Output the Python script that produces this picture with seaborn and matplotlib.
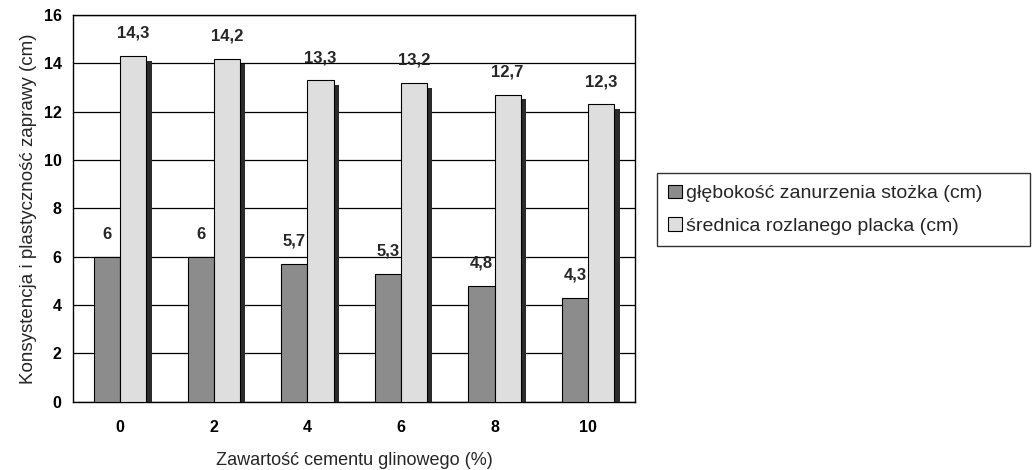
import seaborn as sns
import pandas as pd
import matplotlib.pyplot as plt
from matplotlib.patches import Rectangle

categories = ['0', '2', '4', '6', '8', '10']
glebokosc = [6.0, 6.0, 5.7, 5.3, 4.8, 4.3]
srednica = [14.3, 14.2, 13.3, 13.2, 12.7, 12.3]
series_names = ['głębokość zanurzenia stożka (cm)', 'średnica rozlanego placka (cm)']
colors = ['#8c8c8c', '#dedede']

df = pd.DataFrame({
    'zawartosc': categories * 2,
    'wartosc': glebokosc + srednica,
    'seria': [series_names[0]] * 6 + [series_names[1]] * 6,
})

sns.set_style('white')
plt.rcParams['font.family'] = ['Liberation Sans', 'DejaVu Sans']

fig = plt.figure(figsize=(10.34, 4.70), dpi=100)
ax = fig.add_axes([0.071, 0.145, 0.543, 0.823])

sns.barplot(data=df, x='zawartosc', y='wartosc', hue='seria', order=categories,
            hue_order=series_names, palette=colors, width=0.56, gap=0,
            edgecolor='black', linewidth=0.8, ax=ax, zorder=3)

# dark "3D" shadow on the right side of each bar
for p in list(ax.patches):
    if p.get_height() <= 0:
        continue
    x, w, h = p.get_x(), p.get_width(), p.get_height()
    ax.add_patch(Rectangle((x + w, 0), w * 0.2, h * 0.985,
                           facecolor='#2b2b2b', edgecolor='none', zorder=2.9))

ax.set_ylim(0, 16)
ax.set_yticks(range(0, 17, 2))
ax.yaxis.grid(True, color='black', linewidth=0.9, zorder=0)
ax.set_axisbelow(True)
for s in ax.spines.values():
    s.set_color('black')
    s.set_linewidth(1.0)

for cont, vals in zip(ax.containers, [glebokosc, srednica]):
    labels = [f'{v:g}'.replace('.', ',') for v in vals]
    ax.bar_label(cont, labels=labels, padding=11, fontsize=12, fontweight='bold')

ax.set_xlabel('Zawartość cementu glinowego (%)', fontsize=13, labelpad=12)
ax.set_ylabel('Konsystencja i plastyczność zaprawy (cm)', fontsize=13.5, labelpad=5)
ax.tick_params(axis='both', labelsize=11.5, length=5, direction='out', colors='black')
ax.tick_params(axis='x', length=0, pad=13)
for t in ax.get_xticklabels() + ax.get_yticklabels():
    t.set_fontweight('bold')
ax.set_xticks([i + 0.5 for i in range(5)], minor=True)
ax.tick_params(axis='x', which='minor', length=5, direction='in')

handles, lbls = ax.get_legend_handles_labels()
ax.legend(handles, lbls, loc='center left', bbox_to_anchor=(1.039, 0.40, 0.664, 0.194),
          mode='expand', frameon=True, fancybox=False, edgecolor='black', fontsize=14,
          handlelength=0.7, handleheight=0.7, handletextpad=0.2,
          borderpad=0.6, labelspacing=0.75, borderaxespad=0)

fig.savefig('out.png', dpi=100)
